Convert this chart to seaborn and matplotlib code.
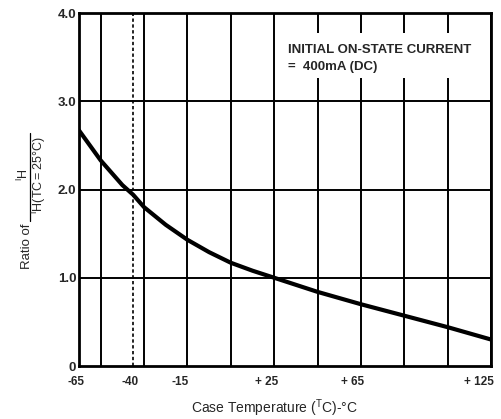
import matplotlib
matplotlib.use("Agg")
import matplotlib.pyplot as plt
import matplotlib.transforms as mtransforms
from matplotlib.lines import Line2D
import seaborn as sns
import pandas as pd

# Data
temps = [-65, -55, -45, -40, -35, -25, -15, -5, 5, 15, 25, 35, 45, 55, 65, 75, 85, 95, 105, 115, 125]
ratio = [2.67, 2.33, 2.05, 1.94, 1.80, 1.60, 1.43, 1.29, 1.17, 1.08, 1.00, 0.92, 0.84, 0.77, 0.70, 0.635, 0.57, 0.505, 0.44, 0.37, 0.30]
xtick_vals = [-65, -40, -15, 25, 65, 125]
xtick_labels = ["-65", "-40", "-15", "+ 25", "+ 65", "+ 125"]
ytick_vals = [0, 1, 2, 3, 4]
ytick_labels = ["0", "1.0", "2.0", "3.0", "4.0"]
xgrid = [-55, -35, -15, 5, 25, 45, 65, 85, 105, 125]
ygrid = [1, 2, 3]
dashed_x = -40

sns.set_theme(style="white")
plt.rcParams['font.family'] = ['Liberation Sans', 'DejaVu Sans']
plt.rcParams['mathtext.fontset'] = 'custom'
plt.rcParams['mathtext.rm'] = 'Liberation Sans'
plt.rcParams['mathtext.it'] = 'Liberation Sans'
plt.rcParams['mathtext.bf'] = 'Liberation Sans:bold'

W, H = 501, 419
fig = plt.figure(figsize=(W/100, H/100), dpi=100)
ax = fig.add_axes([79/W, 1-366/H, 412/W, 353/H])

df = pd.DataFrame({"T": temps, "R": ratio})

for gx in xgrid:
    ax.axvline(gx, color="black", lw=1.4, zorder=1)
for gy in ygrid:
    ax.axhline(gy, color="black", lw=1.4, zorder=1)
ax.axvline(dashed_x, color="black", lw=1.2, ls=(0, (2, 1.5)), zorder=1)

# annotation box masking grid
ax.add_patch(plt.Rectangle((0.50, 0.816), 0.45, 0.127, transform=ax.transAxes,
                           facecolor="white", edgecolor="none", zorder=2))
ax.text(0.507, 0.896, "INITIAL ON-STATE CURRENT", transform=ax.transAxes,
        fontsize=9.5, fontweight="bold", va="center", ha="left", zorder=3)
ax.text(0.507, 0.846, "=  400mA (DC)", transform=ax.transAxes,
        fontsize=9.5, fontweight="bold", va="center", ha="left", zorder=3)

sns.lineplot(data=df, x="T", y="R", ax=ax, color="black", lw=3, zorder=4)

ax.set_xlim(-65, 125)
ax.set_ylim(0, 4)
ax.set_xticks(xtick_vals)
ax.set_xticklabels(xtick_labels, fontsize=8.5, fontweight="bold")
ax.set_yticks(ytick_vals)
ax.set_yticklabels(ytick_labels, fontsize=9.5, fontweight="bold")
ax.tick_params(length=0, pad=2)
ax.tick_params(axis="x", pad=7)
x_shifts = [-2.5, -3, -7, -8, -8.5, -12]
for lab, dx in zip(ax.get_xticklabels(), x_shifts):
    lab.set_transform(lab.get_transform() + mtransforms.ScaledTranslation(dx/100, 0, fig.dpi_scale_trans))
for s in ax.spines.values():
    s.set_color("black")
    s.set_linewidth(2)

ax.set_xlabel(r"Case Temperature ($^{T}$C)-°C", fontsize=10)
ax.xaxis.set_label_coords((274-79)/412, -0.088)
ax.set_ylabel("")

# y label built as a fraction
def fx(px):
    return px / W

def fy(py):
    return 1 - py / H

fig.text(fx(27.5), fy(246), "Ratio of", rotation=90, ha="center", va="center", fontsize=9.5)
fig.text(fx(23), fy(175), r"${}^{\mathregular{I}}\mathregular{H}$", rotation=90,
         ha="center", va="center", fontsize=9)
fig.text(fx(39), fy(175), r"${}^{\mathregular{I}}\mathregular{H(TC = 25°C)}$", rotation=90,
         ha="center", va="center", fontsize=9)
fig.add_artist(Line2D([fx(30), fx(30)], [fy(221), fy(133)], color="black", lw=0.9,
                      transform=fig.transFigure))

fig.savefig("out.png", dpi=100)
